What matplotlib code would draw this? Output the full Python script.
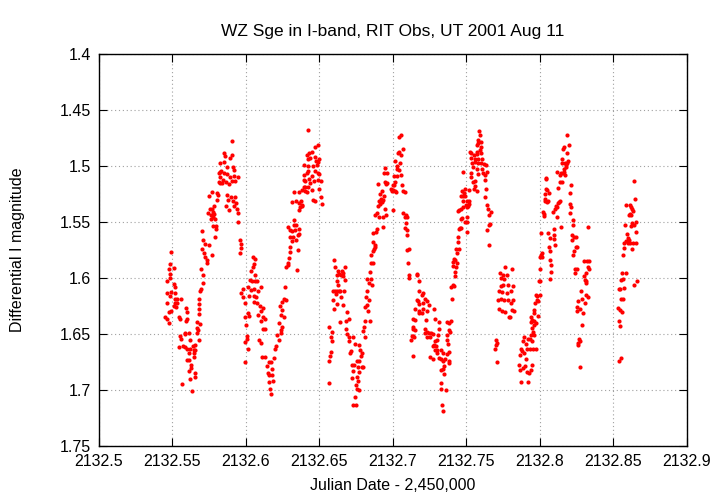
import numpy as np
import matplotlib
matplotlib.use("Agg")
import matplotlib.pyplot as plt
from matplotlib.ticker import FormatStrFormatter

# Julian date offsets (JD - 2,450,000 = 2132 + frac) and differential I magnitudes,
# read off the published light curve, one hump at a time
JD0 = 2132.0

jd_frac = [
    # first hump / dip
    0.5493, 0.5480, 0.5507, 0.5475, 0.5484, 0.5480, 0.5466, 0.5512, 0.5516, 0.5493,
    0.5461, 0.5520, 0.5484, 0.5516, 0.5529, 0.5461, 0.5520, 0.5534, 0.5556, 0.5507,
    0.5525, 0.5488, 0.5475, 0.5593, 0.5600, 0.5452, 0.5466, 0.5475, 0.5543, 0.5552,
    0.5602, 0.5593, 0.5588, 0.5548, 0.5561, 0.5584, 0.5611, 0.5620, 0.5543, 0.5570,
    0.5584, 0.5602, 0.5620, 0.5615, 0.5597, 0.5615, 0.5624, 0.5629, 0.5615, 0.5620,
    0.5566, 0.5634, 0.5638, 0.5651, 0.5643, 0.5656, 0.5647, 0.5643, 0.5651, 0.5656,
    0.5679, 0.5665, 0.5675, 0.5665, 0.5670, 0.5688, 0.5679, 0.5683, 0.5679, 0.5683,
    0.5688, 0.5692, 0.5706, 0.5706, 0.5692, 0.5733, 0.5733, 0.5719, 0.5715, 0.5702,
    0.5770, 0.5746, 0.5724, 0.5710, 0.5817, 0.5826, 0.5821, 0.5817, 0.5826, 0.5772,
    0.5804, 0.5812, 0.5749, 0.5804, 0.5785, 0.5758, 0.5767, 0.5776, 0.5744, 0.5763,
    0.5785, 0.5776, 0.5763, 0.5790, 0.5794, 0.5776, 0.5794, 0.5704, 0.5790, 0.5903,
    # second hump
    0.5848, 0.5858, 0.5907, 0.5894, 0.5853, 0.5826, 0.5871, 0.5912, 0.5921, 0.5831,
    0.5848, 0.5871, 0.5889, 0.5916, 0.5943, 0.5844, 0.5862, 0.5903, 0.5926, 0.5835,
    0.5885, 0.5871, 0.5899, 0.5926, 0.5880, 0.5912, 0.5930, 0.5867, 0.5885, 0.5921,
    0.5939, 0.5948, 0.5948, 0.5957, 0.5966, 0.5966, 0.5957, 0.6050, 0.6059, 0.6055,
    0.6045, 0.6032, 0.6059, 0.6028, 0.6041, 0.6064, 0.6072, 0.5977, 0.6014, 0.6036,
    0.6055, 0.6082, 0.6100, 0.5969, 0.5977, 0.6018, 0.6055, 0.6068, 0.5996, 0.6055,
    0.6072, 0.6095, 0.6113, 0.6104, 0.6014, 0.6023, 0.5991, 0.6082, 0.6118, 0.6127,
    0.6104, 0.6000, 0.6118, 0.6131, 0.6005, 0.5991, 0.6009, 0.6091, 0.6100, 0.6014,
    0.5996, 0.6195, 0.6109, 0.6131, 0.6191, 0.6154, 0.6167, 0.6140, 0.6177, 0.6150,
    0.6159, 0.6177, 0.6181, 0.6154, 0.6163, 0.6167, 0.6213, 0.6227, 0.6206, 0.6240,
    # third hump
    0.6265, 0.6256, 0.6269, 0.6247, 0.6229, 0.6247, 0.6238, 0.6260, 0.6225, 0.6247,
    0.6238, 0.6274, 0.6283, 0.6292, 0.6283, 0.6347, 0.6301, 0.6301, 0.6356, 0.6310,
    0.6301, 0.6320, 0.6342, 0.6360, 0.6351, 0.6288, 0.6301, 0.6315, 0.6337, 0.6364,
    0.6324, 0.6342, 0.6328, 0.6315, 0.6342, 0.6360, 0.6374, 0.6369, 0.6383, 0.6364,
    0.6328, 0.6360, 0.6378, 0.6405, 0.6451, 0.6396, 0.6419, 0.6455, 0.6469, 0.6510,
    0.6514, 0.6496, 0.6392, 0.6405, 0.6432, 0.6446, 0.6437, 0.6464, 0.6491, 0.6392,
    0.6419, 0.6473, 0.6487, 0.6496, 0.6392, 0.6419, 0.6459, 0.6482, 0.6491, 0.6500,
    0.6423, 0.6437, 0.6415, 0.6432, 0.6446, 0.6469, 0.6478, 0.6473, 0.6491, 0.6423,
    0.6412, 0.6383, 0.6401, 0.6510, 0.6412, 0.6600, 0.6609, 0.6673, 0.6627, 0.6650,
    0.6659, 0.6636, 0.6618, 0.6645, 0.6663, 0.6673, 0.6622, 0.6627, 0.6609, 0.6591,
    0.6618, 0.6632, 0.6668, 0.6641, 0.6614, 0.6645, 0.6595, 0.6618, 0.6659, 0.6600,
    0.6686, 0.6704, 0.6681, 0.6641, 0.6564, 0.6586, 0.6681, 0.6686, 0.6578, 0.6704,
    0.6727, 0.6700, 0.6586, 0.6741, 0.6768, 0.6718, 0.6777, 0.6578, 0.6573, 0.6790,
    0.6709, 0.6781, 0.6568, 0.6768, 0.6758, 0.6722, 0.6736, 0.6790, 0.6799, 0.6763,
    0.6731, 0.6768, 0.6722, 0.6754, 0.6763, 0.6749, 0.6568, 0.6772, 0.6754, 0.6745,
    # fourth hump
    0.6731, 0.6749, 0.6799, 0.6808, 0.6804, 0.6813, 0.6844, 0.6831, 0.6813, 0.6822,
    0.6840, 0.6817, 0.6822, 0.6858, 0.6840, 0.6822, 0.6849, 0.6844, 0.6853, 0.6867,
    0.6849, 0.6863, 0.6872, 0.6880, 0.6863, 0.6876, 0.6863, 0.6885, 0.6890, 0.6931,
    0.6880, 0.6894, 0.6908, 0.6931, 0.6953, 0.6944, 0.6899, 0.6912, 0.6926, 0.6903,
    0.6931, 0.6917, 0.6940, 0.6912, 0.6926, 0.6899, 0.6953, 0.6962, 0.6949, 0.6940,
    0.6962, 0.6944, 0.6999, 0.7044, 0.7053, 0.7067, 0.7039, 0.7057, 0.7035, 0.7048,
    0.7012, 0.7026, 0.7030, 0.7039, 0.7057, 0.7007, 0.7026, 0.7016, 0.6999, 0.7007,
    0.7062, 0.6985, 0.7003, 0.7021, 0.6994, 0.7012, 0.7071, 0.7085, 0.7071, 0.7089,
    0.7080, 0.7094, 0.7089, 0.7084, 0.7098, 0.7094, 0.7107, 0.7098, 0.7103, 0.7112,
    0.7112, 0.7166, 0.7162, 0.7180, 0.7176, 0.7171, 0.7176, 0.7180, 0.7152, 0.7139,
    0.7148, 0.7139, 0.7135, 0.7148, 0.7130, 0.7139, 0.7125, 0.7139, 0.7162, 0.7180,
    0.7144, 0.7198, 0.7207, 0.7216, 0.7203, 0.7234, 0.7244, 0.7207, 0.7234, 0.7279,
    0.7284, 0.7195, 0.7222, 0.7216, 0.7230, 0.7221, 0.7244, 0.7234, 0.7253, 0.7261,
    0.7275, 0.7311, 0.7311, 0.7306, 0.7301, 0.7288, 0.7279, 0.7270, 0.7293, 0.7297,
    0.7284, 0.7301, 0.7252, 0.7274, 0.7315, 0.7329, 0.7338, 0.7324, 0.7342, 0.7356,
    0.7347, 0.7338, 0.7324, 0.7347, 0.7329, 0.7324, 0.7360, 0.7333, 0.7342, 0.7369,
    0.7383, 0.7392, 0.7379, 0.7388, 0.7365, 0.7369, 0.7374, 0.7379, 0.7365, 0.7379,
    # fifth hump
    0.7383, 0.7401, 0.7406, 0.7397, 0.7415, 0.7424, 0.7420, 0.7429, 0.7406, 0.7410,
    0.7433, 0.7424, 0.7415, 0.7433, 0.7447, 0.7429, 0.7442, 0.7442, 0.7456, 0.7447,
    0.7460, 0.7501, 0.7487, 0.7505, 0.7460, 0.7469, 0.7505, 0.7442, 0.7451, 0.7460,
    0.7474, 0.7501, 0.7510, 0.7515, 0.7496, 0.7460, 0.7478, 0.7492, 0.7474, 0.7501,
    0.7519, 0.7483, 0.7469, 0.7487, 0.7519, 0.7474, 0.7523, 0.7532, 0.7569, 0.7587,
    0.7591, 0.7578, 0.7582, 0.7596, 0.7573, 0.7600, 0.7591, 0.7569, 0.7596, 0.7551,
    0.7528, 0.7555, 0.7582, 0.7605, 0.7560, 0.7578, 0.7596, 0.7619, 0.7632, 0.7537,
    0.7546, 0.7569, 0.7605, 0.7614, 0.7641, 0.7528, 0.7532, 0.7582, 0.7623, 0.7546,
    0.7560, 0.7623, 0.7555, 0.7632, 0.7569, 0.7551, 0.7628, 0.7637, 0.7646, 0.7664,
    0.7651, 0.7660, 0.7651, 0.7641, 0.7655, 0.7763, 0.7727, 0.7777, 0.7750, 0.7736,
    0.7759, 0.7782, 0.7750, 0.7736, 0.7722, 0.7745, 0.7773, 0.7718, 0.7736, 0.7754,
    0.7786, 0.7722, 0.7745, 0.7763, 0.7791, 0.7704, 0.7708, 0.7700, 0.7695, 0.7708,
    0.7809, 0.7818, 0.7805, 0.7818, 0.7800, 0.7809, 0.7827, 0.7795, 0.7863, 0.7872,
    0.7858, 0.7863, 0.7872, 0.7917, 0.7890, 0.7885, 0.7881, 0.7894, 0.7908, 0.7899,
    0.7885, 0.7913, 0.7926, 0.7940, 0.7949, 0.7913, 0.7904, 0.7922, 0.7931, 0.7949,
    0.7931, 0.7954, 0.7971, 0.7940, 0.7963, 0.7954, 0.7945, 0.7963, 0.7972, 0.7936,
    0.7945, 0.7958, 0.7936, 0.7963, 0.7990, 0.7977, 0.7986, 0.7981, 0.7999, 0.7972,
    # sixth hump
    0.7995, 0.8004, 0.7999, 0.7968, 0.7958, 0.8008, 0.8012, 0.8004, 0.8017, 0.8008,
    0.8022, 0.8026, 0.8031, 0.8035, 0.8035, 0.8048, 0.8058, 0.8035, 0.8048, 0.8062,
    0.8040, 0.8040, 0.8044, 0.8058, 0.8067, 0.8062, 0.8067, 0.8071, 0.8076, 0.8076,
    0.8067, 0.8099, 0.8094, 0.8099, 0.8103, 0.8089, 0.8103, 0.8117, 0.8108, 0.8126,
    0.8135, 0.8130, 0.8117, 0.8144, 0.8113, 0.8126, 0.8139, 0.8153, 0.8135, 0.8144,
    0.8158, 0.8167, 0.8171, 0.8162, 0.8175, 0.8184, 0.8171, 0.8194, 0.8180, 0.8148,
    0.8153, 0.8162, 0.8158, 0.8198, 0.8184, 0.8184, 0.8212, 0.8208, 0.8203, 0.8212,
    0.8203, 0.8226, 0.8222, 0.8217, 0.8217, 0.8231, 0.8244, 0.8244, 0.8253, 0.8231,
    0.8226, 0.8240, 0.8250, 0.8240, 0.8329, 0.8302, 0.8320, 0.8334, 0.8329, 0.8334,
    0.8316, 0.8298, 0.8307, 0.8311, 0.8316, 0.8280, 0.8311, 0.8325, 0.8257, 0.8289,
    0.8307, 0.8253, 0.8276, 0.8253, 0.8293, 0.8284, 0.8266, 0.8270, 0.8261, 0.8261,
    # last block after the gap
    0.8275, 0.8642, 0.8646, 0.8587, 0.8610, 0.8619, 0.8628, 0.8632, 0.8610, 0.8605,
    0.8623, 0.8628, 0.8655, 0.8578, 0.8623, 0.8642, 0.8651, 0.8592, 0.8596, 0.8583,
    0.8605, 0.8573, 0.8596, 0.8614, 0.8632, 0.8655, 0.8573, 0.8628, 0.8568, 0.8587,
    0.8560, 0.8564, 0.8555, 0.8660, 0.8637, 0.8573, 0.8537, 0.8546, 0.8550, 0.8564,
    0.8528, 0.8546, 0.8560, 0.8537, 0.8546, 0.8550, 0.8541,
]

mag = [
    1.5771, 1.5875, 1.5911, 1.5922, 1.5967, 1.5997, 1.6030, 1.6054, 1.6078, 1.6125,
    1.6131, 1.6131, 1.6158, 1.6190, 1.6190, 1.6221, 1.6221, 1.6221, 1.6190, 1.6250,
    1.6256, 1.6292, 1.6301, 1.6271, 1.6301, 1.6351, 1.6369, 1.6399, 1.6351, 1.6364,
    1.6364, 1.6381, 1.6500, 1.6518, 1.6542, 1.6494, 1.6489, 1.6554, 1.6619, 1.6607,
    1.6619, 1.6632, 1.6637, 1.6667, 1.6732, 1.6732, 1.6774, 1.6807, 1.6828, 1.6899,
    1.6949, 1.7007, 1.6607, 1.6601, 1.6643, 1.6643, 1.6673, 1.6703, 1.6851, 1.6887,
    1.6554, 1.6494, 1.6465, 1.6447, 1.6393, 1.6411, 1.6322, 1.6280, 1.6232, 1.6185,
    1.6114, 1.6096, 1.6047, 1.5971, 1.5922, 1.5864, 1.5839, 1.5810, 1.5774, 1.5744,
    1.5797, 1.5708, 1.5697, 1.5661, 1.5065, 1.5054, 1.5096, 1.5143, 1.5154, 1.5232,
    1.5244, 1.5256, 1.5268, 1.5304, 1.5357, 1.5381, 1.5387, 1.5411, 1.5417, 1.5440,
    1.5429, 1.5458, 1.5471, 1.5471, 1.5536, 1.5536, 1.5565, 1.5578, 1.5637, 1.4779,
    1.4881, 1.4911, 1.4899, 1.4929, 1.4964, 1.4976, 1.5006, 1.5006, 1.5036, 1.5042,
    1.5065, 1.5071, 1.5096, 1.5089, 1.5101, 1.5125, 1.5143, 1.5137, 1.5131, 1.5154,
    1.5161, 1.5262, 1.5274, 1.5274, 1.5304, 1.5315, 1.5328, 1.5357, 1.5393, 1.5357,
    1.5387, 1.5422, 1.5500, 1.5661, 1.5697, 1.5732, 1.5780, 1.5810, 1.5833, 1.5875,
    1.5899, 1.5940, 1.5971, 1.6018, 1.6024, 1.6030, 1.6030, 1.6096, 1.6083, 1.6107,
    1.6101, 1.6114, 1.6083, 1.6131, 1.6167, 1.6161, 1.6161, 1.6173, 1.6221, 1.6214,
    1.6226, 1.6250, 1.6268, 1.6298, 1.6315, 1.6340, 1.6351, 1.6333, 1.6351, 1.6369,
    1.6381, 1.6417, 1.6453, 1.6453, 1.6518, 1.6572, 1.6542, 1.6554, 1.6583, 1.6632,
    1.6750, 1.6632, 1.6703, 1.6703, 1.6715, 1.6750, 1.6750, 1.6786, 1.6810, 1.6851,
    1.6864, 1.6864, 1.6917, 1.6929, 1.6994, 1.7036, 1.6509, 1.6554, 1.6607, 1.6491,
    1.6078, 1.6185, 1.6197, 1.6214, 1.6250, 1.6286, 1.6333, 1.6346, 1.6399, 1.6435,
    1.6465, 1.5899, 1.5864, 1.5822, 1.5881, 1.5929, 1.5768, 1.5721, 1.5750, 1.5672,
    1.5631, 1.5637, 1.5661, 1.5607, 1.5619, 1.5547, 1.5572, 1.5578, 1.5572, 1.5565,
    1.5524, 1.5530, 1.5482, 1.5321, 1.5315, 1.5328, 1.5315, 1.5363, 1.5346, 1.5393,
    1.5232, 1.5232, 1.5214, 1.5226, 1.5214, 1.5185, 1.5185, 1.5304, 1.5310, 1.5280,
    1.5339, 1.5208, 1.5125, 1.5137, 1.5113, 1.5089, 1.5154, 1.5131, 1.5125, 1.5083,
    1.5042, 1.5047, 1.5060, 1.5071, 1.4988, 1.5000, 1.5000, 1.4988, 1.4964, 1.4940,
    1.4940, 1.4929, 1.4899, 1.4881, 1.4875, 1.4917, 1.4953, 1.4828, 1.4815, 1.4679,
    1.5232, 1.5357, 1.5185, 1.5131, 1.5065, 1.5839, 1.5899, 1.5899, 1.5935, 1.5940,
    1.5953, 1.5964, 1.5976, 1.5976, 1.5982, 1.6018, 1.6030, 1.6060, 1.6119, 1.6119,
    1.6114, 1.6114, 1.6114, 1.6114, 1.6143, 1.6167, 1.6197, 1.6232, 1.6244, 1.6274,
    1.6304, 1.6369, 1.6387, 1.6393, 1.6435, 1.6482, 1.6453, 1.6500, 1.6524, 1.6530,
    1.6530, 1.6565, 1.6565, 1.6590, 1.6601, 1.6649, 1.6643, 1.6661, 1.6697, 1.6673,
    1.6673, 1.6697, 1.6739, 1.6739, 1.6739, 1.6774, 1.6780, 1.6792, 1.6792, 1.6798,
    1.6828, 1.6840, 1.6893, 1.6882, 1.6923, 1.6953, 1.6941, 1.7000, 1.6994, 1.7060,
    1.7131, 1.7131, 1.6471, 1.6530, 1.6440, 1.6387, 1.6381, 1.6298, 1.6256, 1.6239,
    1.6197, 1.6167, 1.6114, 1.6060, 1.6047, 1.6012, 1.6006, 1.5947, 1.5869, 1.5869,
    1.5792, 1.5762, 1.5744, 1.5721, 1.5679, 1.5703, 1.5601, 1.5589, 1.5560, 1.5542,
    1.5435, 1.5417, 1.5458, 1.5453, 1.5440, 1.5381, 1.5357, 1.5339, 1.5321, 1.5315,
    1.5304, 1.5292, 1.5268, 1.5250, 1.5226, 1.5161, 1.5161, 1.5154, 1.5143, 1.5065,
    1.5065, 1.5018, 1.5393, 1.4738, 1.4726, 1.4851, 1.4875, 1.4899, 1.4887, 1.4971,
    1.4958, 1.5000, 1.5024, 1.5036, 1.5078, 1.5089, 1.5089, 1.5143, 1.5172, 1.5172,
    1.5172, 1.5208, 1.5214, 1.5232, 1.5221, 1.5221, 1.5226, 1.5232, 1.5422, 1.5440,
    1.5458, 1.5453, 1.5512, 1.5554, 1.5572, 1.5613, 1.5739, 1.5750, 1.5869, 1.5971,
    1.6000, 1.5964, 1.5976, 1.6030, 1.6119, 1.6208, 1.6232, 1.6310, 1.6280, 1.6369,
    1.6375, 1.6435, 1.6453, 1.6465, 1.6518, 1.6518, 1.6554, 1.6697, 1.6197, 1.6298,
    1.6530, 1.6155, 1.6137, 1.6190, 1.6221, 1.6203, 1.6239, 1.6274, 1.6292, 1.6280,
    1.6369, 1.6310, 1.6375, 1.6453, 1.6482, 1.6494, 1.6494, 1.6530, 1.6530, 1.6494,
    1.6500, 1.6393, 1.6458, 1.6506, 1.6554, 1.6565, 1.6601, 1.6607, 1.6607, 1.6643,
    1.6643, 1.6673, 1.6703, 1.6726, 1.6715, 1.6643, 1.6673, 1.6726, 1.6744, 1.6721,
    1.6786, 1.6810, 1.6822, 1.6857, 1.6935, 1.6989, 1.7000, 1.7131, 1.7190, 1.6393,
    1.6399, 1.6387, 1.6465, 1.6482, 1.6512, 1.6554, 1.6590, 1.6661, 1.6679, 1.6739,
    1.6762, 1.6190, 1.6060, 1.6083, 1.6072, 1.5982, 1.5947, 1.5899, 1.5893, 1.5857,
    1.5864, 1.5839, 1.5833, 1.5774, 1.5739, 1.5739, 1.5679, 1.5637, 1.5554, 1.5560,
    1.5554, 1.5589, 1.5500, 1.5500, 1.5471, 1.5464, 1.5458, 1.5405, 1.5393, 1.5381,
    1.5369, 1.5369, 1.5357, 1.5339, 1.5346, 1.5268, 1.5268, 1.5268, 1.5310, 1.5315,
    1.5315, 1.5238, 1.5221, 1.5208, 1.5214, 1.5054, 1.4875, 1.4881, 1.4875, 1.4690,
    1.4726, 1.4768, 1.4792, 1.4786, 1.4810, 1.4828, 1.4857, 1.4893, 1.4887, 1.4904,
    1.4929, 1.4935, 1.4935, 1.4940, 1.4964, 1.4976, 1.4971, 1.4982, 1.4988, 1.4976,
    1.5012, 1.5029, 1.5024, 1.5060, 1.5054, 1.5065, 1.5096, 1.5071, 1.5083, 1.5143,
    1.5137, 1.5125, 1.5179, 1.5208, 1.5226, 1.5208, 1.5280, 1.5351, 1.5381, 1.5411,
    1.5440, 1.5518, 1.5530, 1.5572, 1.5708, 1.5899, 1.5953, 1.5976, 1.5976, 1.6000,
    1.6012, 1.6060, 1.6065, 1.6072, 1.6114, 1.6125, 1.6137, 1.6197, 1.6185, 1.6197,
    1.6197, 1.6280, 1.6298, 1.6304, 1.6346, 1.6554, 1.6578, 1.6596, 1.6632, 1.6750,
    1.5922, 1.6072, 1.6114, 1.6197, 1.6221, 1.6286, 1.6298, 1.6351, 1.6685, 1.6632,
    1.6780, 1.6822, 1.6929, 1.6929, 1.6530, 1.6560, 1.6649, 1.6673, 1.6726, 1.6786,
    1.6804, 1.6840, 1.6851, 1.6822, 1.6774, 1.6637, 1.6590, 1.6542, 1.6548, 1.6560,
    1.6632, 1.6632, 1.6632, 1.6512, 1.6512, 1.6482, 1.6447, 1.6417, 1.6405, 1.6393,
    1.6375, 1.6387, 1.6346, 1.6310, 1.6340, 1.6197, 1.6208, 1.6161, 1.6155, 1.6149,
    1.6024, 1.6030, 1.5917, 1.6221, 1.6286, 1.5792, 1.5810, 1.5810, 1.5780, 1.5601,
    1.5411, 1.5447, 1.5429, 1.5315, 1.5297, 1.5321, 1.5315, 1.5250, 1.5214, 1.5238,
    1.5203, 1.5107, 1.5113, 1.5601, 1.5643, 1.5721, 1.5756, 1.5839, 1.5881, 1.5947,
    1.6006, 1.5560, 1.5613, 1.5649, 1.5708, 1.5411, 1.5381, 1.5369, 1.5357, 1.5333,
    1.5310, 1.5321, 1.5453, 1.5547, 1.5054, 1.5196, 1.5143, 1.5143, 1.5078, 1.5065,
    1.5065, 1.5054, 1.5078, 1.5024, 1.5006, 1.4971, 1.4976, 1.4958, 1.4994, 1.4971,
    1.4935, 1.4828, 1.4846, 1.4810, 1.4881, 1.4726, 1.5172, 1.5238, 1.5339, 1.5363,
    1.5422, 1.5482, 1.5524, 1.5619, 1.5661, 1.5637, 1.5637, 1.5721, 1.5721, 1.5762,
    1.5797, 1.5917, 1.5917, 1.5953, 1.5547, 1.5851, 1.5851, 1.5851, 1.5899, 1.5917,
    1.5953, 1.5982, 1.6018, 1.6047, 1.6030, 1.6119, 1.6149, 1.6167, 1.6203, 1.6185,
    1.6221, 1.6262, 1.6274, 1.6292, 1.6310, 1.6423, 1.6542, 1.6560, 1.6583, 1.6601,
    1.6798, 1.5131, 1.5292, 1.5351, 1.5351, 1.5369, 1.5387, 1.5399, 1.5429, 1.5440,
    1.5440, 1.5506, 1.5500, 1.5530, 1.5536, 1.5524, 1.5589, 1.5607, 1.5643, 1.5667,
    1.5661, 1.5690, 1.5690, 1.5690, 1.5690, 1.5690, 1.5732, 1.5739, 1.5792, 1.5953,
    1.5958, 1.6006, 1.6018, 1.6030, 1.6060, 1.6089, 1.6101, 1.6101, 1.6190, 1.6190,
    1.6268, 1.6286, 1.6304, 1.6381, 1.6429, 1.6715, 1.6744,
]

assert len(jd_frac) == len(mag), (len(jd_frac), len(mag))

title = "WZ Sge in I-band, RIT Obs, UT 2001 Aug 11"
x_ticks = [2132.5, 2132.55, 2132.6, 2132.65, 2132.7, 2132.75, 2132.8, 2132.85, 2132.9]
y_ticks = [1.4, 1.45, 1.5, 1.55, 1.6, 1.65, 1.7, 1.75]

plt.rcParams['font.family'] = ['Liberation Sans', 'DejaVu Sans']

jd = JD0 + np.array(jd_frac)

fig = plt.figure(figsize=(7.2, 5.04), dpi=100)
ax = fig.add_axes([0.1375, 0.115, 0.8165, 0.778])

ax.scatter(jd, mag, s=9, c='#ff0000', marker='o', linewidths=0, zorder=3)

ax.set_xlim(2132.5, 2132.9)
ax.set_ylim(1.75, 1.4)  # magnitudes: brighter up
ax.set_xticks(x_ticks)
ax.set_yticks(y_ticks)
ax.xaxis.set_major_formatter(FormatStrFormatter('%g'))
ax.yaxis.set_major_formatter(FormatStrFormatter('%g'))

ax.grid(True, color='#a0a0a0', linestyle=(0, (1, 2.5)), linewidth=0.8)
ax.tick_params(direction='in', top=True, right=True, length=6, width=0.8,
               labelsize=11.5, pad=6)
for sp in ax.spines.values():
    sp.set_linewidth(1.0)

ax.set_title(title, fontsize=12.5, pad=13)
ax.set_xlabel("Julian Date - 2,450,000", fontsize=11.5, labelpad=6)
ax.set_ylabel("Differential I magnitude", fontsize=11.5, labelpad=25)

fig.savefig("out.png", dpi=100)
